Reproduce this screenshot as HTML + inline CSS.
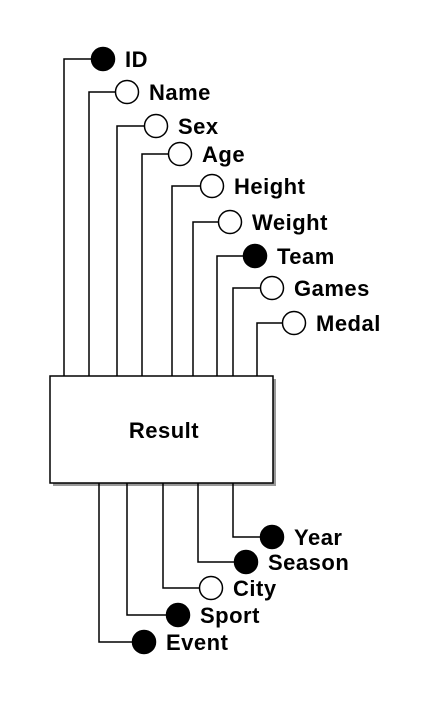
<!DOCTYPE html>
<html><head><meta charset="utf-8"><style>
html,body{margin:0;padding:0;background:#fff;width:431px;height:714px;overflow:hidden}
text{font-family:"Liberation Sans",Arial,sans-serif;font-weight:bold;font-size:22px;letter-spacing:0.5px;fill:#000}
</style></head><body>
<svg id="d" width="431" height="714">
<rect x="53" y="379" width="223" height="107" fill="#999"/>
<rect x="50" y="376" width="223" height="107" fill="#fff" stroke="#000" stroke-width="1.5"/>
<text x="164" y="438" text-anchor="middle">Result</text>
</svg>
<script>
const topNames=["ID","Name","Sex","Age","Height","Weight","Team","Games","Medal"];
const topKey=[1,0,0,0,0,0,1,0,0];
const topLineX=[64,89,117,142,172,193,217,233,257];
const topCy=[59,92,126,154,186,222,256,288,323];
const topCx=[103,127,156,180,212,230,255,272,294];
const botNames=["Year","Season","City","Sport","Event"];
const botKey=[1,1,0,1,1];
const botLineX=[233,198,163,127,99];
const botCy=[537,562,588,615,642];
const botCx=[272,246,211,178,144];
const svg=document.getElementById('d');
const NS='http://www.w3.org/2000/svg';
function mk(t,a){const e=document.createElementNS(NS,t);for(const k in a)e.setAttribute(k,a[k]);svg.appendChild(e);return e;}
function item(name,key,lx,cy,cx,y0){
  const p=mk('polyline',{points:`${lx},${y0} ${lx},${cy} ${cx-11.5},${cy}`,fill:'none',stroke:'#000','stroke-width':1.5});
  
  
  const c=mk('circle',{cx:cx,cy:cy,r:11.5,fill:key?'#000':'#fff',stroke:'#000','stroke-width':1.5});
  
  
  const t=mk('text',{x:cx+22,y:cy+8});
  t.textContent=name;
  
  
}
topNames.forEach((n,i)=>item(n,topKey[i],topLineX[i],topCy[i],topCx[i],376));
botNames.forEach((n,i)=>item(n,botKey[i],botLineX[i],botCy[i],botCx[i],483));
</script>
</body></html>
